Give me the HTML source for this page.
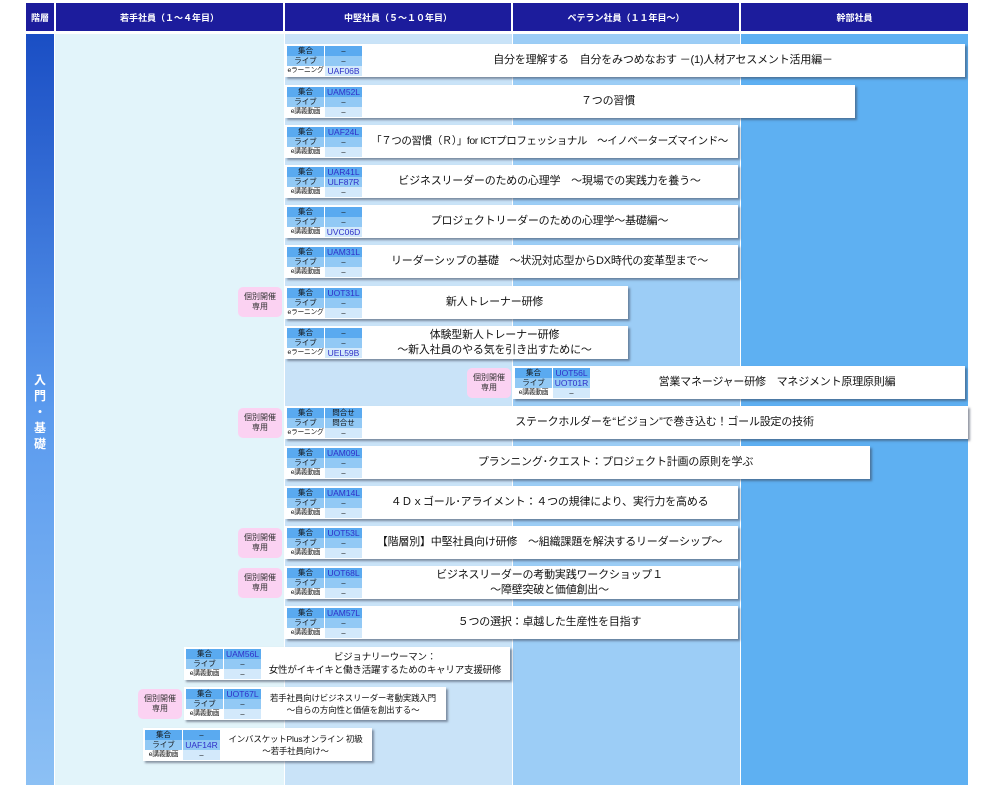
<!DOCTYPE html>
<html><head><meta charset="utf-8">
<style>
*{margin:0;padding:0;box-sizing:border-box}
body{width:1000px;height:788px;background:#fff;position:relative;overflow:hidden;font-family:"Liberation Sans","Noto Sans CJK JP",sans-serif}
.h{position:absolute;top:3px;height:28px;background:#1c1c9c;color:#fff;font-size:9px;font-weight:bold;display:flex;align-items:center;justify-content:center}
.col{position:absolute;top:34px;height:751px}
.c{position:absolute;height:33px;background:#fff;box-shadow:2px 2px 2px rgba(60,70,90,.55)}
.t{position:absolute;left:2px;top:2px;display:grid;grid-template-columns:37px 37px;grid-auto-rows:10px;column-gap:1px;font-size:7.5px;line-height:10px;text-align:center;color:#111}
.t span{display:block;white-space:nowrap;overflow:hidden}
.t span.w{font-size:6.8px;letter-spacing:-0.3px}
.r1{background:#5aaaf0}.r2{background:#92c9f5}.r3{background:#d3e9fb}.w{background:#fff}
.k{color:#3030c8;font-size:8.5px}
.x{position:absolute;left:78px;right:2px;top:0;bottom:0;display:flex;align-items:center;justify-content:center;text-align:center;font-size:11px;line-height:15px;color:#111;white-space:nowrap;letter-spacing:-0.2px}
.bd{position:absolute;width:44px;height:30px;background:#fbd2f2;border-radius:5px;font-size:8px;line-height:10px;color:#333;display:flex;align-items:center;justify-content:center;text-align:center}
</style></head><body>
<div class="h" style="left:26px;width:28px">階層</div>
<div class="h" style="left:56px;width:227px">若手社員（１～４年目）</div>
<div class="h" style="left:285px;width:226px">中堅社員（５～１０年目）</div>
<div class="h" style="left:513px;width:226px">ベテラン社員（１１年目～）</div>
<div class="h" style="left:741px;width:227px">幹部社員</div>

<div class="col" style="left:26px;width:28px;background:linear-gradient(#1a4ec4,#5a9aee 50%,#8cc0f4)"></div>
<div style="position:absolute;left:26px;width:28px;top:372px;color:#fff;font-weight:bold;font-size:12px;line-height:16px;text-align:center">入<br>門<br>・<br>基<br>礎</div>
<div class="col" style="left:55px;width:229px;background:#e2f4fa"></div>
<div class="col" style="left:285px;width:227px;background:#c9e3f8"></div>
<div class="col" style="left:513px;width:227px;background:#9ccdf6"></div>
<div class="col" style="left:741px;width:227px;background:#5eb0f2"></div>

<div class="c" style="left:285px;top:44px;width:680px"><div class="t"><span class="r1">集合</span><span class="r1">–</span><span class="r2">ライブ</span><span class="r2">–</span><span class="w">eラーニング</span><span class="r3 k">UAF06B</span></div><div class="x">自分を理解する　自分をみつめなおす －(1)人材アセスメント活用編－</div></div>

<div class="c" style="left:285px;top:85px;width:570px"><div class="t"><span class="r1">集合</span><span class="r1 k">UAM52L</span><span class="r2">ライブ</span><span class="r2">–</span><span class="w">e講義動画</span><span class="r3">–</span></div><div class="x">７つの習慣</div></div>

<div class="c" style="left:285px;top:125px;width:453px"><div class="t"><span class="r1">集合</span><span class="r1 k">UAF24L</span><span class="r2">ライブ</span><span class="r2">–</span><span class="w">e講義動画</span><span class="r3">–</span></div><div class="x" style="font-size:10.5px;letter-spacing:-0.4px">「７つの習慣（Ｒ）」for ICTプロフェッショナル　～イノベーターズマインド～</div></div>

<div class="c" style="left:285px;top:165px;width:453px"><div class="t"><span class="r1">集合</span><span class="r1 k">UAR41L</span><span class="r2">ライブ</span><span class="r2 k">ULF87R</span><span class="w">e講義動画</span><span class="r3">–</span></div><div class="x">ビジネスリーダーのための心理学　～現場での実践力を養う～</div></div>

<div class="c" style="left:285px;top:205px;width:453px"><div class="t"><span class="r1">集合</span><span class="r1">–</span><span class="r2">ライブ</span><span class="r2">–</span><span class="w">e講義動画</span><span class="r3 k">UVC06D</span></div><div class="x">プロジェクトリーダーのための心理学～基礎編～</div></div>

<div class="c" style="left:285px;top:245px;width:453px"><div class="t"><span class="r1">集合</span><span class="r1 k">UAM31L</span><span class="r2">ライブ</span><span class="r2">–</span><span class="w">e講義動画</span><span class="r3">–</span></div><div class="x">リーダーシップの基礎　～状況対応型からDX時代の変革型まで～</div></div>

<div class="bd" style="left:238px;top:287px">個別開催<br>専用</div>
<div class="c" style="left:285px;top:286px;width:343px"><div class="t"><span class="r1">集合</span><span class="r1 k">UOT31L</span><span class="r2">ライブ</span><span class="r2">–</span><span class="w">eラーニング</span><span class="r3">–</span></div><div class="x">新人トレーナー研修</div></div>

<div class="c" style="left:285px;top:326px;width:343px"><div class="t"><span class="r1">集合</span><span class="r1">–</span><span class="r2">ライブ</span><span class="r2">–</span><span class="w">eラーニング</span><span class="r3 k">UEL59B</span></div><div class="x">体験型新人トレーナー研修<br>～新入社員のやる気を引き出すために～</div></div>

<div class="bd" style="left:467px;top:368px">個別開催<br>専用</div>
<div class="c" style="left:513px;top:366px;width:452px"><div class="t"><span class="r1">集合</span><span class="r1 k">UOT56L</span><span class="r2">ライブ</span><span class="r2 k">UOT01R</span><span class="w">e講義動画</span><span class="r3">–</span></div><div class="x">営業マネージャー研修　マネジメント原理原則編</div></div>

<div class="bd" style="left:238px;top:408px">個別開催<br>専用</div>
<div class="c" style="left:285px;top:406px;width:683px"><div class="t"><span class="r1">集合</span><span class="r1">問合せ</span><span class="r2">ライブ</span><span class="r2">問合せ</span><span class="w">eラーニング</span><span class="r3">–</span></div><div class="x">ステークホルダーを“ビジョン”で巻き込む！ゴール設定の技術</div></div>

<div class="c" style="left:285px;top:446px;width:585px"><div class="t"><span class="r1">集合</span><span class="r1 k">UAM09L</span><span class="r2">ライブ</span><span class="r2">–</span><span class="w">e講義動画</span><span class="r3">–</span></div><div class="x">プランニング･クエスト：プロジェクト計画の原則を学ぶ</div></div>

<div class="c" style="left:285px;top:486px;width:453px"><div class="t"><span class="r1">集合</span><span class="r1 k">UAM14L</span><span class="r2">ライブ</span><span class="r2">–</span><span class="w">e講義動画</span><span class="r3">–</span></div><div class="x">４Ｄｘゴール･アライメント：４つの規律により、実行力を高める</div></div>

<div class="bd" style="left:238px;top:528px">個別開催<br>専用</div>
<div class="c" style="left:285px;top:526px;width:453px"><div class="t"><span class="r1">集合</span><span class="r1 k">UOT53L</span><span class="r2">ライブ</span><span class="r2">–</span><span class="w">e講義動画</span><span class="r3">–</span></div><div class="x">【階層別】中堅社員向け研修　～組織課題を解決するリーダーシップ～</div></div>

<div class="bd" style="left:238px;top:568px">個別開催<br>専用</div>
<div class="c" style="left:285px;top:566px;width:453px"><div class="t"><span class="r1">集合</span><span class="r1 k">UOT68L</span><span class="r2">ライブ</span><span class="r2">–</span><span class="w">e講義動画</span><span class="r3">–</span></div><div class="x">ビジネスリーダーの考動実践ワークショップ１<br>～障壁突破と価値創出～</div></div>

<div class="c" style="left:285px;top:606px;width:453px"><div class="t"><span class="r1">集合</span><span class="r1 k">UAM57L</span><span class="r2">ライブ</span><span class="r2">–</span><span class="w">e講義動画</span><span class="r3">–</span></div><div class="x">５つの選択：卓越した生産性を目指す</div></div>

<div class="c" style="left:184px;top:647px;width:326px"><div class="t"><span class="r1">集合</span><span class="r1 k">UAM56L</span><span class="r2">ライブ</span><span class="r2">–</span><span class="w">e講義動画</span><span class="r3">–</span></div><div class="x" style="font-size:9.5px;line-height:13px">ビジョナリーウーマン：<br>女性がイキイキと働き活躍するためのキャリア支援研修</div></div>

<div class="bd" style="left:138px;top:689px">個別開催<br>専用</div>
<div class="c" style="left:184px;top:687px;width:262px"><div class="t"><span class="r1">集合</span><span class="r1 k">UOT67L</span><span class="r2">ライブ</span><span class="r2">–</span><span class="w">e講義動画</span><span class="r3">–</span></div><div class="x" style="font-size:8.5px;line-height:12px">若手社員向けビジネスリーダー考動実践入門<br>～自らの方向性と価値を創出する～</div></div>

<div class="c" style="left:143px;top:728px;width:229px"><div class="t"><span class="r1">集合</span><span class="r1">–</span><span class="r2">ライブ</span><span class="r2 k">UAF14R</span><span class="w">e講義動画</span><span class="r3">–</span></div><div class="x" style="font-size:8.5px;line-height:12px">インバスケットPlusオンライン 初級<br>～若手社員向け～</div></div>

</body></html>
